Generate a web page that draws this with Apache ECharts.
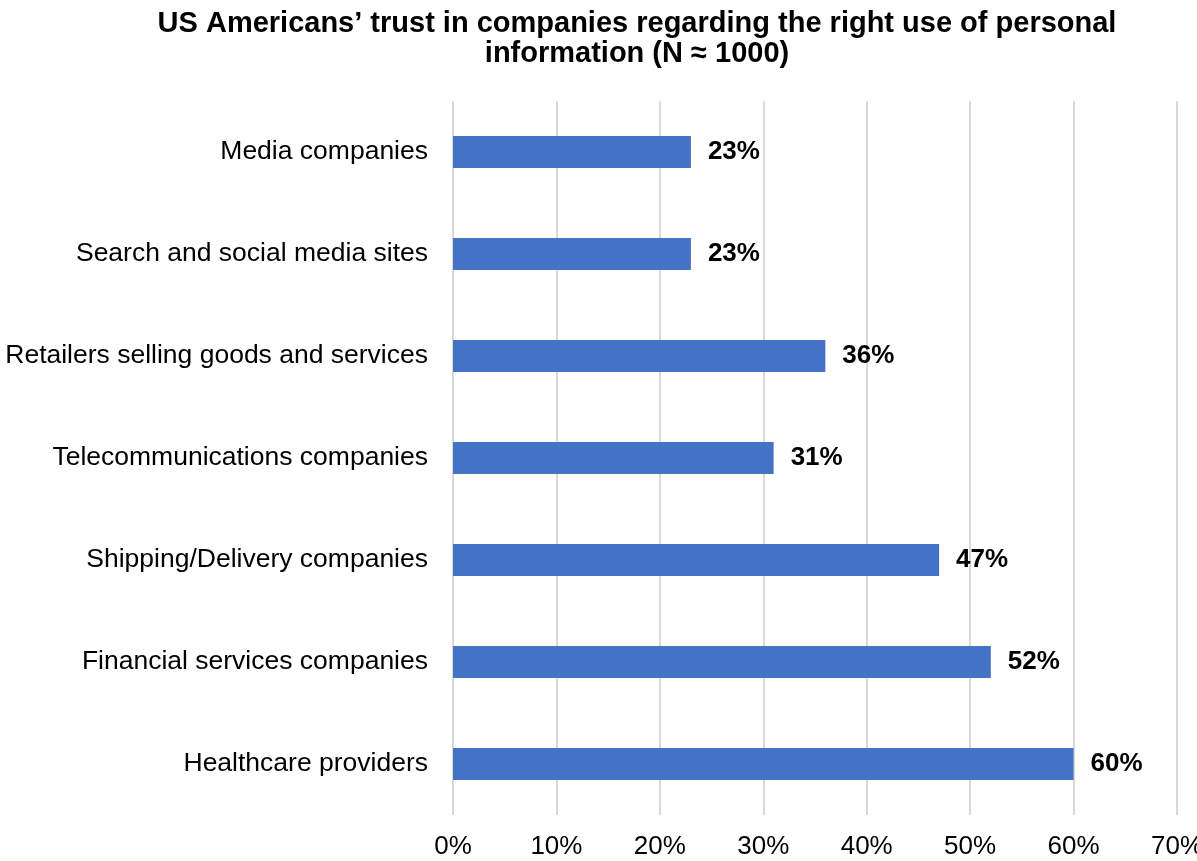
<!DOCTYPE html>
<html>
<head>
<meta charset="utf-8">
<script src="https://cdn.jsdelivr.net/npm/echarts@6/dist/echarts.min.js"></script>
<style>
  html, body { margin: 0; padding: 0; background: #fff; }
  #chart { width: 1197px; height: 861px; }
</style>
</head>
<body>
<div id="chart"></div>
<script>
// Sectors, listed top to bottom
const categories = [
  'Media companies',
  'Search and social media sites',
  'Retailers selling goods and services',
  'Telecommunications companies',
  'Shipping/Delivery companies',
  'Financial services companies',
  'Healthcare providers'
];
// Share of respondents trusting each sector (%)
const trustShare = [23, 23, 36, 31, 47, 52, 60];
// Value axis range (%)
const axisMin = 0;
const axisMax = 70;
const axisStep = 10;

const chart = echarts.init(document.getElementById('chart'));
const font = '"Liberation Sans", Arial, sans-serif';

chart.setOption({
  animation: false,
  backgroundColor: '#ffffff',
  title: {
    text: 'US Americans\u2019 trust in companies regarding the right use of personal\ninformation (N \u2248 1000)',
    left: 637,
    top: 9,
    padding: 0,
    textAlign: 'center',
    textStyle: {
      fontFamily: font,
      fontSize: 29,
      fontWeight: 'bold',
      color: '#000',
      lineHeight: 30
    }
  },
  grid: {
    left: 453,
    right: 20,
    top: 101,
    bottom: 46,
    containLabel: false,
    outerBoundsMode: 'none'
  },
  xAxis: {
    type: 'value',
    min: axisMin,
    max: axisMax,
    interval: axisStep,
    axisLine: { show: false },
    axisTick: { show: false },
    splitLine: { show: true, lineStyle: { color: '#d9d9d9', width: 2 } },
    axisLabel: {
      margin: 19,
      fontFamily: font,
      fontSize: 26,
      color: '#000',
      formatter: v => v + '%'
    }
  },
  yAxis: {
    type: 'category',
    data: categories,
    inverse: true,
    axisLine: { show: false },
    axisTick: { show: false },
    axisLabel: {
      margin: 25,
      padding: [4, 0, 0, 0],
      fontFamily: font,
      fontSize: 26.5,
      color: '#000'
    }
  },
  series: [{
    type: 'bar',
    data: trustShare,
    barWidth: 32,
    itemStyle: { color: '#4472c4' },
    label: {
      show: true,
      position: 'right',
      distance: 17,
      padding: [4, 0, 0, 0],
      fontFamily: font,
      fontSize: 26,
      fontWeight: 'bold',
      color: '#000',
      formatter: p => p.value + '%'
    }
  }]
});
</script>
</body>
</html>
